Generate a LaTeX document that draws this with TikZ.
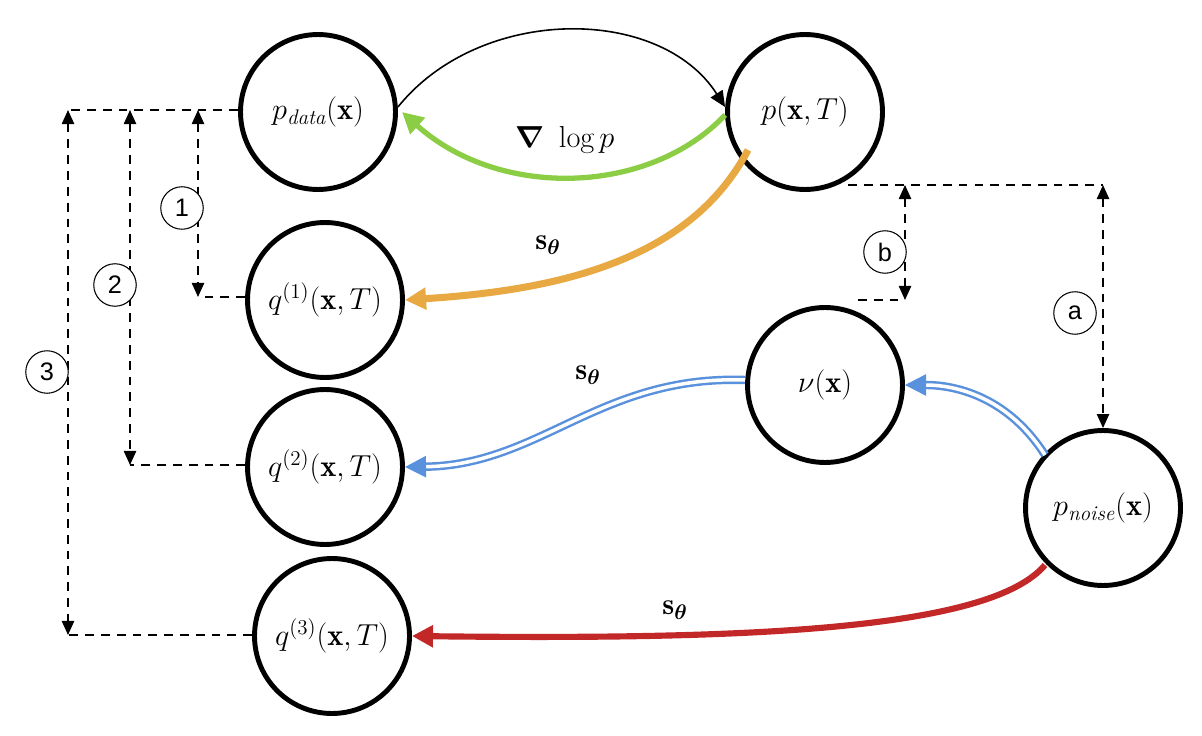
\documentclass[tikz,border=0pt]{standalone}
\usepackage{amsmath,bm}
\usepackage{fontspec}
\setsansfont{Liberation Sans}
\usetikzlibrary{arrows.meta,calc}
\begin{document}
\begin{tikzpicture}[x=0.02cm,y=-0.02cm,
  st/.style={circle,draw,line width=2.8pt,minimum size=3.1cm,inner sep=0pt,font=\LARGE},
  lab/.style={circle,draw,line width=0.6pt,minimum size=0.85cm,inner sep=0pt,font=\sffamily\Large,fill=white},
  dsh/.style={dashed,line width=0.9pt,dash pattern=on 5pt off 4pt},
  dar/.style={dsh,{Triangle[width=7pt,length=8pt]}-{Triangle[width=7pt,length=8pt]}},
  ar/.style={-{Triangle[width=12pt,length=12pt]},line width=3pt}]
\useasboundingbox (0,0) rectangle (1202,736);
\node[st] (pd) at (318,112) {$p_{\mathit{data}}(\mathbf{x})$};
\node[st] (pT) at (805,112) {$p(\mathbf{x},T)$};
\node[st] (q1) at (325,300) {$q^{(1)}(\mathbf{x},T)$};
\node[st] (q2) at (325,467) {$q^{(2)}(\mathbf{x},T)$};
\node[st] (q3) at (332,636) {$q^{(3)}(\mathbf{x},T)$};
\node[st] (nu) at (825,385) {$\nu(\mathbf{x})$};
\node[st] (pn) at (1103,508) {$p_{\mathit{noise}}(\mathbf{x})$};
% left dashed
\coordinate (t1) at (198,110); \coordinate (t2) at (130,110); \coordinate (t3) at (68,110);
\coordinate (b1) at (198,297); \coordinate (b2) at (130,465); \coordinate (b3) at (68,635);
\coordinate (e0) at (238,110); \coordinate (e1) at (245,297); \coordinate (e2) at (245,465); \coordinate (e3) at (252,635);
\draw[dsh] (e0) -- (t3);
\draw[dsh] (e1) -- (b1);
\draw[dsh] (e2) -- (b2);
\draw[dsh] (e3) -- (b3);
\draw[dar] (t1) -- (b1);
\draw[dar] (t2) -- (b2);
\draw[dar] (t3) -- (b3);
\node[lab] (l1) at (182,208) {1};
\node[lab] (l2) at (115,285) {2};
\node[lab] (l3) at (47,372) {3};
% right dashed
\coordinate (ra) at (1103,185); \coordinate (rb) at (905,185); \coordinate (rc) at (905,300);
\coordinate (s1) at (848,185); \coordinate (s2) at (858,300);
\draw[dsh] (s1) -- (ra);
\draw[dsh] (s2) -- (rc);
\draw[dar] (ra) -- (pn.north);
\draw[dar] (rb) -- (rc);
\node[lab] (lb) at (885,252) {b};
\node[lab] (la) at (1075,313) {a};
% arrows
\draw[-{Triangle[width=8pt,length=9pt]},line width=0.9pt] ($(pd.east)+(0,-5)$) .. controls (480,5) and (660,5) .. ($(pT.west)+(0,-5)$);
\draw[ar,color={rgb,255:red,140;green,205;blue,70}] ($(pT.west)+(0,3)$) .. controls (650,195) and (500,200) .. (402,112);
\node[font=\LARGE] (g) at (565,140) {$\bm{\nabla}\ \log p$};
\draw[ar,line width=4pt,color={rgb,255:red,232;green,168;blue,66}] (748,150) .. controls (690,260) and (560,290) .. (q1.east);
\node[font=\LARGE] (s1l) at (548,245) {$\mathbf{s}_{\bm\theta}$};
\draw[ar,double=white,double distance=2pt,line width=1.4pt,color={rgb,255:red,90;green,145;blue,220}] (745,380) .. controls (600,375) and (540,465) .. (q2.east);
\node[font=\LARGE] (s2l) at (588,375) {$\mathbf{s}_{\bm\theta}$};
\draw[ar,double=white,double distance=2pt,line width=1.4pt,color={rgb,255:red,90;green,145;blue,220}] (1045,455) .. controls (1010,400) and (960,385) .. (nu.east);
\draw[ar,line width=3.5pt,color={rgb,255:red,195;green,40;blue,40}] (1045,565) .. controls (990,630) and (750,640) .. (q3.east);
\node[font=\LARGE] (s3l) at (675,610) {$\mathbf{s}_{\bm\theta}$};
\end{tikzpicture}
\end{document}
